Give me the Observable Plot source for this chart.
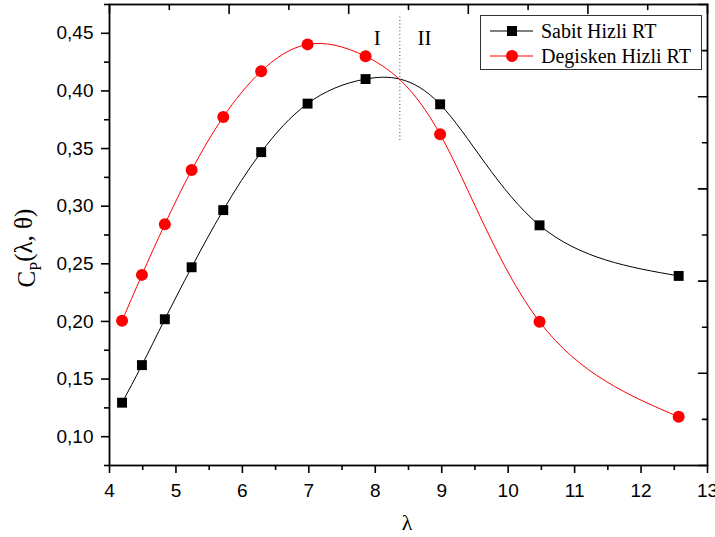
<!DOCTYPE html>
<html><head><meta charset="utf-8">
<script src="https://cdn.jsdelivr.net/npm/d3@7"></script>
<script src="https://cdn.jsdelivr.net/npm/@observablehq/plot@0.6"></script>
<style>body{margin:0;background:#fff}#chart{width:715px;height:537px}</style>
</head><body><div id="chart"></div>
<script>
// ---- data ----
const lambda   = [4.189, 4.488, 4.833, 5.236, 5.712, 6.283, 6.981, 7.854, 8.976, 10.472, 12.566];
const sabit    = [0.1295, 0.1621, 0.2019, 0.2470, 0.2966, 0.3469, 0.3890, 0.4103, 0.3884, 0.2834, 0.2395];
const degisken = [0.2005, 0.2404, 0.2843, 0.3313, 0.3774, 0.4170, 0.4404, 0.4300, 0.3624, 0.1997, 0.1172];
const seriesNames = ["Sabit Hizli RT", "Degisken Hizli RT"];
const xTicks = [4, 5, 6, 7, 8, 9, 10, 11, 12, 13];
const xMinorTicks = [4.5, 5.5, 6.5, 7.5, 8.5, 9.5, 10.5, 11.5, 12.5];
const yTicks = [0.10, 0.15, 0.20, 0.25, 0.30, 0.35, 0.40, 0.45];
const yMinorTicks = [0.075, 0.125, 0.175, 0.225, 0.275, 0.325, 0.375, 0.425, 0.475];
const topTicks = [4, 4.9, 5.8, 6.7, 7.6, 8.5, 9.4, 10.3, 11.2, 12.1, 13];
const rightTicks = [0.075, 0.115, 0.155, 0.195, 0.235, 0.275, 0.315, 0.355, 0.395, 0.435, 0.475];
const divider = [{x: 8.37, y1: 0.357, y2: 0.466}];
const regionLabels = [{x: 8.03, y: 0.4455, label: "I"}, {x: 8.74, y: 0.4455, label: "II"}];

const sabitRows = lambda.map((l, i) => ({lambda: l, cp: sabit[i]}));
const degRows = lambda.map((l, i) => ({lambda: l, cp: degisken[i]}));

const tickShape = {draw(ctx, l) { ctx.moveTo(0, 0); ctx.lineTo(0, -l); }};
const fmtY = d => d3.format(".2f")(d).replace(".", ",");
const sans = "'Liberation Sans', Arial, sans-serif";
const serif = "'Liberation Serif', 'Times New Roman', serif";

const plot = Plot.plot({
  width: 715, height: 537,
  marginLeft: 109, marginRight: 8, marginTop: 4, marginBottom: 72,
  style: {fontFamily: sans, background: "white", overflow: "visible"},
  x: {domain: [4, 13]},
  y: {domain: [0.075, 0.475]},
  marks: [
    Plot.axisX(xTicks, {tickSize: 8, tickPadding: 10, strokeWidth: 1.6, fontSize: 19, tickFormat: d => String(d), label: null}),
    Plot.axisX(xMinorTicks, {tickSize: 5, strokeWidth: 1.6, tickFormat: () => "", label: null}),
    Plot.axisY(yTicks, {tickSize: 8, tickPadding: 8, strokeWidth: 1.6, fontSize: 19, tickFormat: fmtY, label: null}),
    Plot.axisY(yMinorTicks, {tickSize: 5, strokeWidth: 1.6, tickFormat: () => "", label: null}),
    Plot.vector(topTicks.filter((d, i) => i % 2 === 0), {x: d => d, frameAnchor: "top", length: 9, rotate: 180, anchor: "start", shape: tickShape, stroke: "black", strokeWidth: 1.6}),
    Plot.vector(topTicks.filter((d, i) => i % 2 === 1), {x: d => d, frameAnchor: "top", length: 5, rotate: 180, anchor: "start", shape: tickShape, stroke: "black", strokeWidth: 1.6}),
    Plot.vector(rightTicks.filter((d, i) => i % 2 === 0), {y: d => d, frameAnchor: "right", length: 9, rotate: -90, anchor: "start", shape: tickShape, stroke: "black", strokeWidth: 1.6}),
    Plot.vector(rightTicks.filter((d, i) => i % 2 === 1), {y: d => d, frameAnchor: "right", length: 5, rotate: -90, anchor: "start", shape: tickShape, stroke: "black", strokeWidth: 1.6}),
    Plot.ruleX(divider, {x: "x", y1: "y1", y2: "y2", stroke: "#444", strokeWidth: 1, strokeDasharray: "1,2.5"}),
    Plot.line(sabitRows, {x: "lambda", y: "cp", curve: "natural", stroke: "black", strokeWidth: 1}),
    Plot.line(degRows, {x: "lambda", y: "cp", curve: "natural", stroke: "#ff0000", strokeWidth: 1}),
    Plot.dot(sabitRows, {x: "lambda", y: "cp", symbol: "square", r: 5.6, fill: "black"}),
    Plot.dot(degRows, {x: "lambda", y: "cp", symbol: "circle", r: 6, fill: "#ff0000"}),
    Plot.text(regionLabels, {x: "x", y: "y", text: "label", fontSize: 21, fontFamily: serif, fill: "black"}),
    Plot.frame({stroke: "black", strokeWidth: 1.8})
  ]
});
document.getElementById("chart").appendChild(plot);

// ---- legend, axis titles ----
const svg = d3.select(plot);
const lg = svg.append("g").attr("text-anchor", "start");
lg.append("rect").attr("x", 480.5).attr("y", 15.5).attr("width", 221).attr("height", 54)
  .attr("fill", "white").attr("stroke", "#333").attr("stroke-width", 1);
const rows = [
  {name: seriesNames[0], color: "black", sym: "square", y: 31},
  {name: seriesNames[1], color: "#ff0000", sym: "circle", y: 56}
];
rows.forEach(r => {
  lg.append("line").attr("x1", 490).attr("x2", 533).attr("y1", r.y).attr("y2", r.y)
    .attr("stroke", r.color).attr("stroke-width", 1.2);
  if (r.sym === "square") {
    lg.append("rect").attr("x", 512 - 5).attr("y", r.y - 5).attr("width", 10).attr("height", 10).attr("fill", r.color);
  } else {
    lg.append("circle").attr("cx", 512).attr("cy", r.y).attr("r", 6).attr("fill", r.color);
  }
  lg.append("text").attr("x", 541).attr("y", r.y).attr("dy", "0.35em").attr("text-anchor", "start")
    .attr("font-family", serif).attr("font-size", 20).attr("fill", "black").text(r.name);
});

const yl = svg.append("text").attr("transform", "translate(35,248) rotate(-90)")
  .attr("text-anchor", "middle").attr("font-family", serif).attr("font-size", 25).attr("fill", "black");
yl.append("tspan").text("C");
yl.append("tspan").attr("font-size", 16).attr("dy", "0.35em").text("P");
yl.append("tspan").attr("dy", "-0.35em").text("(λ, θ)");

svg.append("text").attr("x", 407).attr("y", 530).attr("text-anchor", "middle")
  .attr("font-family", serif).attr("font-size", 22).attr("fill", "black").text("λ");
</script>
</body></html>
